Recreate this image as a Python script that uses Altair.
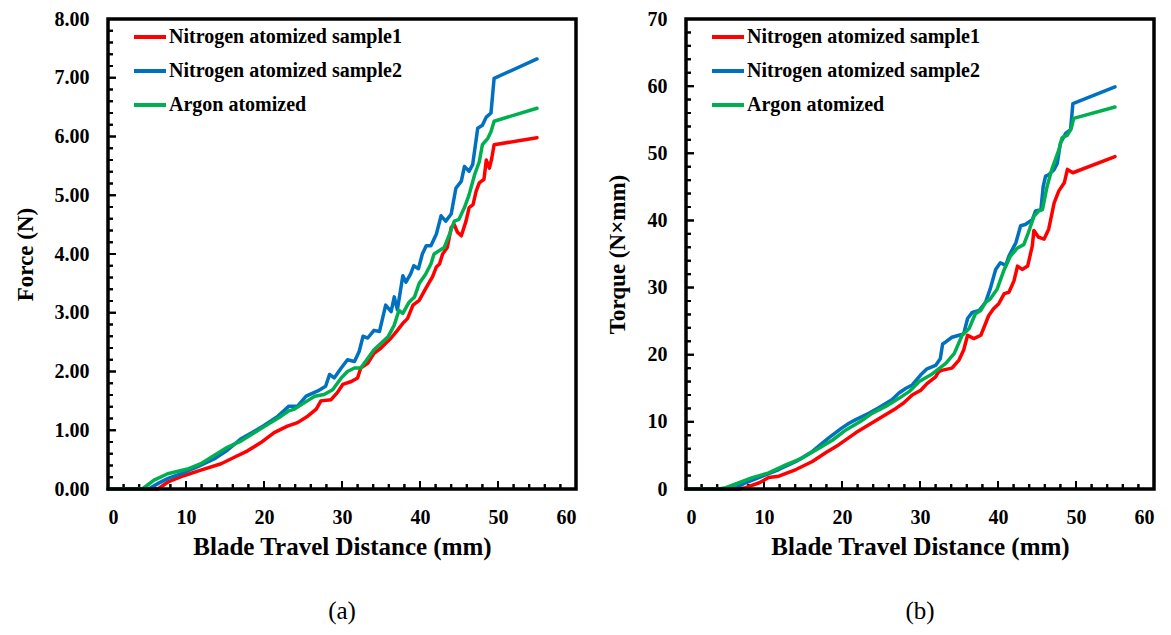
import altair as alt
import pandas as pd

FONT = "Liberation Serif"
series_names = ["Nitrogen atomized sample1", "Nitrogen atomized sample2", "Argon atomized"]
series_colors = ["#FF0000", "#0070C0", "#00B050"]

# ---------------- (a) Force ----------------
force_s1_x = [0, 6.4, 7.7, 9.8, 11.9, 14.5, 16.2, 17.9, 19.6, 21.3, 23.0, 24.3, 25.6, 26.7, 27.3, 28.6,
              29.4, 30.1, 31.2, 32.0, 32.4, 33.3, 34.1, 35.0, 35.6, 36.3, 37.1, 37.8, 38.4, 39.1, 39.9,
              40.6, 41.2, 41.6, 42.1, 42.5, 42.9, 43.5, 44.0, 44.4, 44.8, 45.3, 45.9, 46.3, 46.8, 47.2,
              47.6, 48.2, 48.5, 48.9, 49.2, 49.5, 55.0]
force_s1_y = [0, 0, 0.12, 0.23, 0.32, 0.43, 0.54, 0.65, 0.79, 0.96, 1.07, 1.13, 1.24, 1.36, 1.50, 1.52,
              1.64, 1.78, 1.83, 1.89, 2.06, 2.14, 2.31, 2.40, 2.48, 2.57, 2.70, 2.82, 2.90, 3.13, 3.21,
              3.38, 3.52, 3.61, 3.78, 3.83, 4.00, 4.11, 4.45, 4.50, 4.37, 4.31, 4.56, 4.79, 4.84, 5.07,
              5.21, 5.27, 5.60, 5.46, 5.63, 5.86, 5.98]

force_s2_x = [0, 5.2, 6.5, 7.7, 9.4, 11.5, 13.6, 15.3, 17.0, 18.6, 20.0, 21.8, 23.2, 24.3, 25.4, 26.9,
              27.9, 28.4, 29.0, 29.9, 30.7, 31.6, 32.2, 32.7, 33.3, 34.1, 34.8, 35.6, 36.3, 36.7, 37.1,
              37.8, 38.2, 38.8, 39.2, 39.8, 40.3, 40.8, 41.4, 42.1, 42.7, 43.3, 44.0, 44.6, 45.3, 45.7,
              46.3, 46.75, 47.4, 48.0, 48.5, 49.1, 49.5, 55.0]
force_s2_y = [0, 0, 0.10, 0.18, 0.26, 0.38, 0.51, 0.66, 0.85, 0.97, 1.08, 1.24, 1.41, 1.41, 1.58, 1.67,
              1.75, 1.95, 1.89, 2.06, 2.20, 2.17, 2.34, 2.60, 2.57, 2.70, 2.68, 3.13, 3.02, 3.27, 3.05,
              3.63, 3.52, 3.66, 3.80, 3.75, 4.00, 4.14, 4.14, 4.34, 4.65, 4.56, 4.68, 5.12, 5.24, 5.49,
              5.41, 5.52, 6.14, 6.19, 6.33, 6.40, 6.99, 7.32]

force_ar_x = [0, 4.4, 5.9, 7.65, 10.2, 11.9, 13.6, 15.3, 17.1, 18.8, 20.5, 22.2, 23.2, 23.9, 25.2, 26.5,
              27.7, 28.8, 29.9, 30.7, 31.6, 32.4, 33.5, 34.1, 35.0, 35.9, 36.7, 37.3, 37.8, 38.6, 39.3,
              39.9, 40.7, 41.4, 41.8, 42.5, 43.1, 43.8, 44.4, 45.0, 45.7, 46.3, 47.0, 47.6, 48.0, 48.7,
              49.1, 49.5, 55.0]
force_ar_y = [0, 0, 0.15, 0.26, 0.34, 0.43, 0.57, 0.71, 0.82, 0.96, 1.10, 1.24, 1.33, 1.36, 1.47, 1.58,
              1.61, 1.69, 1.89, 2.00, 2.06, 2.06, 2.26, 2.37, 2.48, 2.59, 2.79, 3.04, 2.99, 3.18, 3.27,
              3.50, 3.65, 3.83, 4.00, 4.06, 4.11, 4.34, 4.56, 4.59, 4.79, 5.01, 5.35, 5.57, 5.86, 5.97,
              6.08, 6.26, 6.48]

# ---------------- (b) Torque ----------------
torque_s1_x = [0, 6.8, 7.65, 9.4, 10.6, 11.9, 14.1, 16.2, 17.9, 19.6, 21.8, 23.5, 25.2, 26.9, 27.9, 29.0,
               30.1, 30.9, 32.0, 32.4, 32.9, 34.1, 35.0, 35.6, 36.1, 36.9, 37.8, 38.8, 39.4, 40.1, 40.8,
               41.4, 42.05, 42.5, 43.1, 43.8, 44.4, 44.6, 45.2, 45.9, 46.5, 47.2, 47.8, 48.5, 48.9, 49.6,
               55.0]
torque_s1_y = [0, 0, 0.2, 0.93, 1.7, 1.9, 2.9, 4.1, 5.4, 6.6, 8.4, 9.6, 10.8, 12.0, 12.8, 14.0,
               14.7, 15.7, 16.7, 17.5, 17.7, 18.0, 19.2, 20.7, 22.9, 22.4, 22.9, 25.8, 26.8, 27.6, 29.1,
               29.3, 31.0, 33.2, 32.7, 33.2, 36.2, 38.5, 37.5, 37.2, 38.7, 42.6, 44.4, 45.6, 47.6, 47.1,
               49.5]

torque_s2_x = [0, 5.8, 6.4, 7.65, 9.8, 11.9, 14.1, 16.2, 18.3, 20.0, 20.9, 21.7, 23.5, 24.7, 26.4, 27.3,
               28.2, 29.0, 30.1, 30.9, 32.0, 32.6, 32.9, 33.3, 34.1, 35.0, 35.6, 36.1, 36.7, 37.6, 38.4,
               39.0, 39.7, 40.3, 41.0, 41.4, 42.3, 42.9, 43.5, 44.4, 44.8, 45.5, 45.8, 46.1, 46.5, 47.2,
               47.6, 48.0, 48.7, 49.3, 49.6, 55.0]
torque_s2_y = [0, 0, 0.2, 0.93, 1.9, 2.9, 4.1, 5.6, 7.6, 9.1, 9.8, 10.3, 11.3, 12.1, 13.3, 14.3,
               15.0, 15.5, 17.0, 17.9, 18.4, 19.4, 21.6, 21.9, 22.6, 22.9, 23.1, 25.4, 26.3, 26.6, 27.8,
               29.8, 32.7, 33.7, 33.3, 34.7, 36.7, 39.2, 39.4, 40.1, 41.4, 41.6, 45.1, 46.6, 46.8, 47.6,
               48.5, 51.5, 53.0, 53.5, 57.4, 59.9]

torque_ar_x = [0, 4.2, 5.1, 6.8, 8.5, 10.6, 12.8, 14.9, 17.1, 18.8, 20.5, 22.4, 23.9, 25.6, 27.3, 28.6,
               29.9, 31.4, 32.4, 33.3, 34.4, 35.4, 36.3, 37.1, 37.8, 38.4, 39.0, 39.9, 40.8, 41.6, 42.5,
               43.3, 43.9, 44.6, 45.2, 45.7, 46.3, 46.9, 47.8, 48.2, 48.9, 49.4, 49.7, 55.0]
torque_ar_y = [0, 0, 0.2, 0.93, 1.7, 2.4, 3.6, 4.6, 6.1, 7.3, 8.8, 10.1, 11.3, 12.3, 13.5, 14.5,
               16.0, 17.0, 17.9, 18.7, 20.2, 22.9, 23.9, 26.1, 26.6, 27.8, 28.3, 29.8, 32.7, 34.7, 35.9,
               36.4, 38.2, 40.6, 41.4, 41.6, 45.1, 47.6, 50.5, 52.3, 52.7, 53.7, 55.2, 56.9]

# tick positions
x_major = [0, 10, 20, 30, 40, 50, 60]
x_minor = [v for v in range(0, 61, 2) if v % 10 != 0]
force_major = [0, 1, 2, 3, 4, 5, 6, 7, 8]
force_minor = [round(i * 0.2, 1) for i in range(41) if i % 5 != 0]
torque_major = [0, 10, 20, 30, 40, 50, 60, 70]
torque_minor = [v for v in range(0, 71, 2) if v % 10 != 0]

W, H = 468, 470
MAJ, MIN = 8, 5          # tick lengths in pixels
XDOM = [0, 60]


def build_df(xs, ys):
    rows = []
    for name, xv, yv in zip(series_names, xs, ys):
        for i, (a, b) in enumerate(zip(xv, yv)):
            rows.append({"series": name, "x": a, "y": b, "order": i})
    return pd.DataFrame(rows)


AX = dict(domain=False, ticks=False, tickSize=0, grid=False,
          labelFont=FONT, labelFontSize=20, labelFontWeight="bold", labelColor="black",
          titleFont=FONT, titleFontWeight="bold", titleColor="black")


def tick_layers(xs, ys, ydomain, ymaj, ymin):
    # inward ticks: tick length converted from pixels to data units; drawn as zero-width
    # stroked rects (same mark type as the frame) plus stroked rules at the same spots
    yspan = ydomain[1] - ydomain[0]
    xspan = XDOM[1] - XDOM[0]
    layers = []
    for vals, ln in ((x_major, MAJ), (x_minor, MIN)):
        d = pd.DataFrame({"tx": vals, "ya": [ydomain[0]] * len(vals),
                          "yb": [ydomain[0] + ln / H * yspan] * len(vals)})
        layers.append(alt.Chart(d).mark_rect(stroke="black", fill="black", strokeWidth=2).encode(
            x=alt.X("tx:Q", scale=xs, axis=None), x2="tx:Q",
            y=alt.Y("ya:Q", scale=ys, axis=None), y2="yb:Q"))
        layers.append(alt.Chart(d).mark_rule(stroke="black", strokeWidth=2, opacity=1).encode(
            x=alt.X("tx:Q", scale=xs, axis=None),
            y=alt.Y("ya:Q", scale=ys, axis=None), y2="yb:Q"))
    for vals, ln in ((ymaj, MAJ), (ymin, MIN)):
        d = pd.DataFrame({"ty": vals, "xa": [XDOM[0]] * len(vals),
                          "xb": [XDOM[0] + ln / W * xspan] * len(vals)})
        layers.append(alt.Chart(d).mark_rect(stroke="black", fill="black", strokeWidth=2).encode(
            y=alt.Y("ty:Q", scale=ys, axis=None), y2="ty:Q",
            x=alt.X("xa:Q", scale=xs, axis=None), x2="xb:Q"))
        layers.append(alt.Chart(d).mark_rule(stroke="black", strokeWidth=2, opacity=1).encode(
            y=alt.Y("ty:Q", scale=ys, axis=None),
            x=alt.X("xa:Q", scale=xs, axis=None), x2="xb:Q"))
    return layers


def panel(df, ytitle, ydomain, yfmt, ymaj, ymin, caption, ytitle_pad):
    xs = alt.Scale(domain=XDOM, nice=False, zero=False)
    ys = alt.Scale(domain=ydomain, nice=False, zero=False)
    xaxis = alt.Axis(values=x_major, title="Blade Travel Distance (mm)", labelPadding=18,
                     titlePadding=7, format="d", titleFontSize=25, **AX)
    yaxis = alt.Axis(values=ymaj, title=ytitle, format=yfmt, labelPadding=19,
                     titlePadding=ytitle_pad, titleFontSize=23, **AX)
    lines = alt.Chart(df).mark_line(strokeWidth=3.5, strokeJoin="round", strokeCap="round").encode(
        x=alt.X("x:Q", scale=xs, axis=xaxis),
        y=alt.Y("y:Q", scale=ys, axis=yaxis),
        color=alt.Color("series:N", sort=series_names,
                        scale=alt.Scale(domain=series_names, range=series_colors),
                        legend=alt.Legend(title=None, orient="none", legendX=24, legendY=0,
                                          symbolType="stroke", symbolSize=1024, symbolStrokeWidth=4,
                                          labelFont=FONT, labelFontSize=20, labelFontWeight="bold",
                                          labelColor="black", labelOffset=1, rowPadding=6, padding=0,
                                          labelLimit=400)),
        order="order:Q",
    )
    frame = alt.Chart(pd.DataFrame({"tx": [0]})).mark_rect(
        fill="transparent", stroke="black", strokeWidth=3.5
    ).encode(x=alt.value(0), x2=alt.value(W), y=alt.value(0), y2=alt.value(H))
    layers = tick_layers(xs, ys, ydomain, ymaj, ymin) + [lines, frame]
    return alt.layer(*layers).resolve_axis(
        x="independent", y="independent"
    ).properties(
        width=W, height=H,
        view=alt.ViewBackground(stroke="transparent"),
        title=alt.TitleParams(caption, orient="bottom", font=FONT, fontSize=25, fontWeight="normal",
                              color="black", offset=40, anchor="middle", frame="group"),
    )


df_force = build_df([force_s1_x, force_s2_x, force_ar_x], [force_s1_y, force_s2_y, force_ar_y])
df_torque = build_df([torque_s1_x, torque_s2_x, torque_ar_x], [torque_s1_y, torque_s2_y, torque_ar_y])

left = panel(df_force, "Force (N)", [0, 8], ".2f", force_major, force_minor, "(a)", 17)
right = panel(df_torque, "Torque (N×mm)", [0, 70], "d", torque_major, torque_minor, "(b)", 18)

chart = alt.hconcat(left, right, spacing=26).resolve_scale(color="independent").resolve_legend(
    color="independent"
).properties(
    padding={"left": 5, "top": 0, "right": 0, "bottom": 5},
    background="white",
)

chart.save("out.html", embed_options={"renderer": "svg", "actions": False})
